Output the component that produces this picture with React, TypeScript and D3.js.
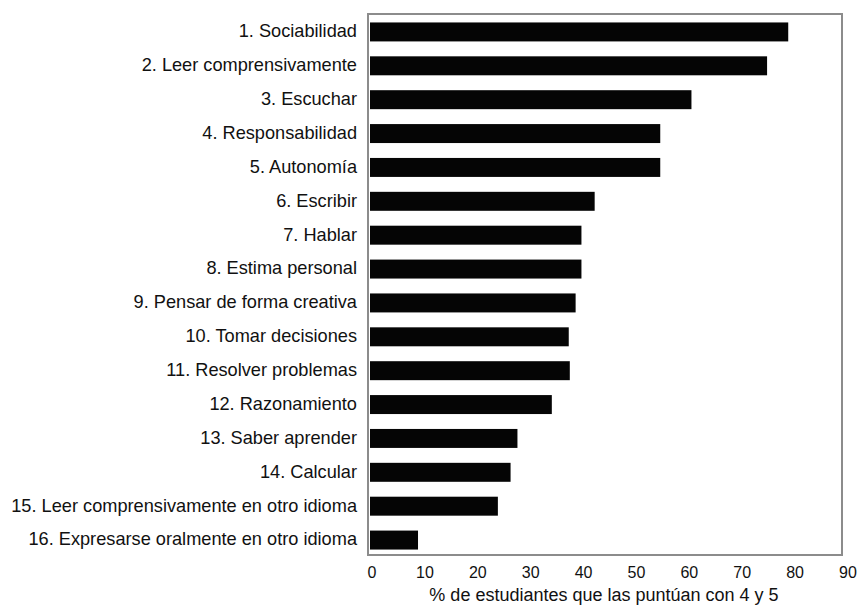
import React, { useEffect, useRef } from 'react';
import * as d3 from 'd3';

const skills = [
  '1. Sociabilidad',
  '2. Leer comprensivamente',
  '3. Escuchar',
  '4. Responsabilidad',
  '5. Autonomía',
  '6. Escribir',
  '7. Hablar',
  '8. Estima personal',
  '9. Pensar de forma creativa',
  '10. Tomar decisiones',
  '11. Resolver problemas',
  '12. Razonamiento',
  '13. Saber aprender',
  '14. Calcular',
  '15. Leer comprensivamente en otro idioma',
  '16. Expresarse oralmente en otro idioma',
];
const percents = [78.7, 74.7, 60.4, 54.5, 54.5, 42.1, 39.6, 39.6, 38.5, 37.2, 37.4, 34.0, 27.5, 26.2, 23.8, 8.7];
const xTicks = [0, 10, 20, 30, 40, 50, 60, 70, 80, 90];
const xTitle = '% de estudiantes que las puntúan con 4 y 5';

const App = () => {
  const ref = useRef<SVGSVGElement>(null);

  useEffect(() => {
    const svg = d3.select(ref.current);
    svg.selectAll('*').remove();
    const font = '"Liberation Sans", Arial, Helvetica, sans-serif';

    const x = d3.scaleLinear().domain([0, 90]).range([372, 848]);
    const y = d3.scaleBand<string>().domain(skills).range([15, 557]).paddingInner(0.44).paddingOuter(0.22);

    // frame
    svg.append('rect')
      .attr('x', 368).attr('y', 14)
      .attr('width', 474).attr('height', 541)
      .attr('fill', 'none')
      .attr('stroke', '#8c8c8c')
      .attr('stroke-width', 2);

    svg.selectAll('.bar')
      .data(percents)
      .enter()
      .append('rect')
      .attr('class', 'bar')
      .attr('x', 370)
      .attr('y', (d, i) => y(skills[i]) as number)
      .attr('width', (d) => x(d) - 370)
      .attr('height', y.bandwidth())
      .attr('fill', '#050505');

    // category labels
    svg.selectAll('.lbl')
      .data(skills)
      .enter()
      .append('text')
      .attr('class', 'lbl')
      .attr('x', 357)
      .attr('y', (d) => (y(d) as number) + y.bandwidth() / 2 - 1)
      .attr('dy', '0.35em')
      .attr('text-anchor', 'end')
      .attr('font-family', font)
      .attr('font-size', 18.2)
      .attr('fill', '#111')
      .text((d) => d);

    // x tick labels
    svg.selectAll('.tick')
      .data(xTicks)
      .enter()
      .append('text')
      .attr('class', 'tick')
      .attr('x', (d) => x(d))
      .attr('y', 578)
      .attr('text-anchor', 'middle')
      .attr('font-family', font)
      .attr('font-size', 16)
      .attr('fill', '#111')
      .text((d) => d);

    svg.append('text')
      .attr('x', 604)
      .attr('y', 601)
      .attr('text-anchor', 'middle')
      .attr('font-family', font)
      .attr('font-size', 18)
      .attr('fill', '#111')
      .text(xTitle);
  }, []);

  return (
    <svg
      ref={ref}
      width={858}
      height={606}
      style={{ position: 'absolute', left: 0, top: 0, background: '#fff' }}
    />
  );
};

export default App;
